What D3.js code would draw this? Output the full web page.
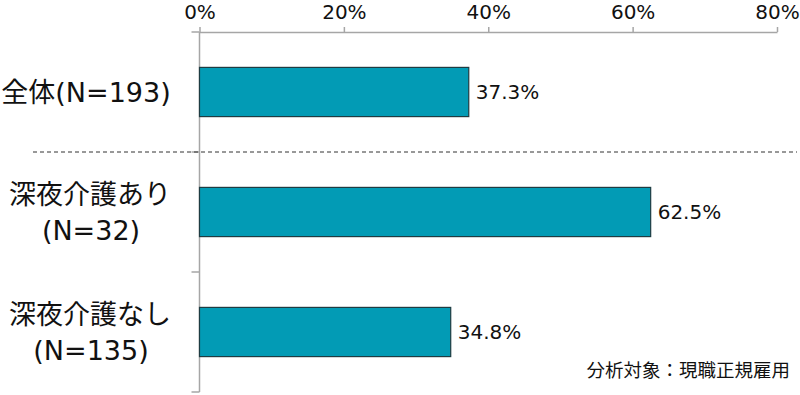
<!DOCTYPE html>
<html>
<head>
<meta charset="utf-8">
<script src="https://cdn.jsdelivr.net/npm/d3@7"></script>
<style>
  body { margin: 0; background: #fff; }
  svg { display: block; font-family: "DejaVu Sans", "Noto Sans CJK JP", sans-serif; }
</style>
</head>
<body>
<svg id="chart"></svg>
<script>
var categories = ["全体", "深夜介護あり", "深夜介護なし"];
var sampleSizes = ["(N=193)", "(N=32)", "(N=135)"];
var values = [0.373, 0.625, 0.348];
var tickValues = [0, 0.2, 0.4, 0.6, 0.8];
var note = "分析対象：現職正規雇用";

var width = 800;
var height = 395;

var svg = d3.select("#chart").attr("width", width).attr("height", height);

var x = d3.scaleLinear().domain([0, 0.8]).range([199.5, 777]);
var y = d3.scaleBand().domain(categories).range([32, 392]).paddingInner(0.59).paddingOuter(0.295);

// top axis
var xAxis = svg.append("g")
    .attr("transform", "translate(0,32)")
    .call(d3.axisTop(x).tickValues(tickValues).tickFormat(d3.format(".0%")).tickSize(5).tickSizeOuter(0).tickPadding(8.4));
xAxis.select(".domain").attr("stroke", "#a6a6a6").attr("stroke-width", 1.5);
xAxis.selectAll(".tick line").attr("stroke", "#a6a6a6").attr("stroke-width", 1.5);
xAxis.selectAll(".tick text")
    .attr("fill", "#111")
    .style("font-size", "20px")
    .style("font-family", "\"DejaVu Sans\", sans-serif");

// left axis line with boundary ticks
var step = y.step();
var bounds = [32].concat(categories.map(function (d) { return y(d) - y.paddingOuter() * step + step; }));
var left = svg.append("g");
left.append("line")
    .attr("x1", x(0)).attr("x2", x(0))
    .attr("y1", 32).attr("y2", 392)
    .attr("stroke", "#a6a6a6").attr("stroke-width", 1.5);
left.selectAll("line.tk")
    .data(bounds)
    .enter().append("line")
    .attr("class", "tk")
    .attr("x1", x(0) - 8).attr("x2", x(0))
    .attr("y1", function (d) { return d; })
    .attr("y2", function (d) { return d; })
    .attr("stroke", "#a6a6a6").attr("stroke-width", 1.5);

// bars
svg.append("g")
    .selectAll("rect")
    .data(values)
    .enter().append("rect")
    .attr("x", x(0))
    .attr("y", function (d, i) { return y(categories[i]); })
    .attr("width", function (d) { return x(d) - x(0); })
    .attr("height", y.bandwidth())
    .attr("fill", "#029bb5")
    .attr("stroke", "#1e3c42")
    .attr("stroke-width", 1.2);

// value labels
svg.append("g")
    .selectAll("text")
    .data(values)
    .enter().append("text")
    .attr("x", function (d) { return x(d) + 7; })
    .attr("y", function (d, i) { return y(categories[i]) + y.bandwidth() / 2; })
    .attr("dy", "0.36em")
    .style("font-size", "20px")
    .style("fill", "#111")
    .text(function (d) { return d3.format(".1%")(d); });

// category labels
var labels = svg.append("g")
    .selectAll("text")
    .data(categories)
    .enter().append("text")
    .attr("text-anchor", "middle")
    .style("font-size", "27px")
    .style("fill", "#111");

labels.each(function (d, i) {
    var t = d3.select(this);
    var cy = y(d) + y.bandwidth() / 2;
    if (i === 0) {
        t.attr("x", 86).attr("y", cy).attr("dy", "0.36em").text(d + sampleSizes[i]);
    } else {
        t.append("tspan").attr("x", 90).attr("y", cy - 17.5).attr("dy", "0.36em").text(d);
        t.append("tspan").attr("x", 91).attr("y", cy + 18).attr("dy", "0.36em").text(sampleSizes[i]);
    }
});

// dashed separator between total and groups
svg.append("line")
    .attr("x1", 33).attr("x2", 797)
    .attr("y1", bounds[1]).attr("y2", bounds[1])
    .attr("stroke", "#333")
    .attr("stroke-width", 1)
    .attr("stroke-dasharray", "4,3");

// note
svg.append("text")
    .attr("x", 790)
    .attr("y", 370)
    .attr("dy", "0.36em")
    .attr("text-anchor", "end")
    .style("font-size", "18.5px")
    .style("font-family", "\"Noto Sans CJK JP\", sans-serif")
    .style("fill", "#111")
    .text(note);
</script>
</body>
</html>
